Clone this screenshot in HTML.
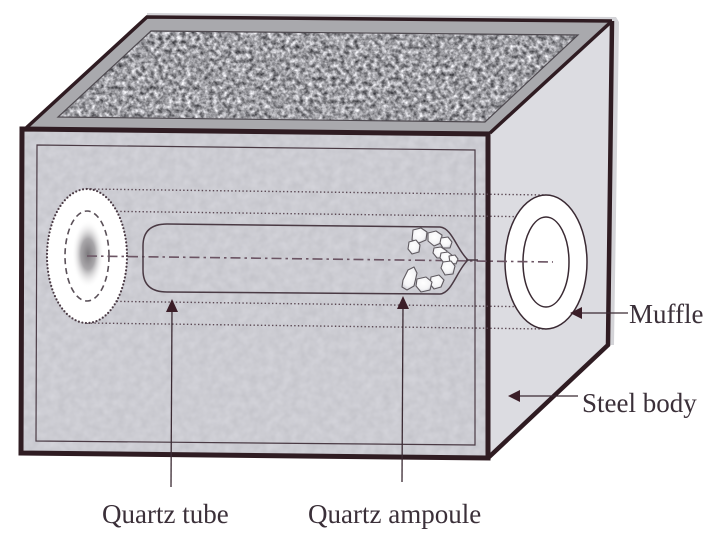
<!DOCTYPE html>
<html>
<head>
<meta charset="utf-8">
<style>
  html,body{margin:0;padding:0;background:#fff;}
  body{width:712px;height:542px;overflow:hidden;position:relative;}
  svg{display:block;position:absolute;left:0;top:0;}
  .lbl{position:absolute;font-family:"Liberation Serif","Noto Serif CJK SC",serif;font-size:27px;line-height:27px;color:#3b3039;white-space:nowrap;}
</style>
</head>
<body>
<svg width="712" height="542" viewBox="0 0 712 542" xmlns="http://www.w3.org/2000/svg">
  <defs>
    <filter id="granite" x="0" y="0" width="100%" height="100%" color-interpolation-filters="sRGB">
      <feTurbulence type="fractalNoise" baseFrequency="0.22" numOctaves="3" seed="7" result="n"/>
      <feColorMatrix in="n" type="matrix" values="1.1 0 0 0 0.07  1.1 0 0 0 0.07  1.1 0 0 0 0.09  0 0 0 0 1" result="g"/>
      <feComposite in="g" in2="SourceAlpha" operator="in"/>
    </filter>
    <filter id="paper" x="0" y="0" width="100%" height="100%" color-interpolation-filters="sRGB">
      <feTurbulence type="fractalNoise" baseFrequency="0.12" numOctaves="2" seed="2" result="n"/>
      <feColorMatrix in="n" type="matrix" values="0.08 0 0 0 0.76  0.08 0 0 0 0.76  0.08 0 0 0 0.785  0 0 0 0 1" result="g"/>
      <feComposite in="g" in2="SourceAlpha" operator="in"/>
    </filter>
    <radialGradient id="blob" cx="50%" cy="50%" r="50%">
      <stop offset="0" stop-color="#7d7a7e"/>
      <stop offset="0.45" stop-color="#a9a7aa"/>
      <stop offset="1" stop-color="#ffffff" stop-opacity="0"/>
    </radialGradient>
    <radialGradient id="peb" cx="45%" cy="40%" r="60%">
      <stop offset="0" stop-color="#ffffff"/>
      <stop offset="0.7" stop-color="#f4f4f6"/>
      <stop offset="1" stop-color="#cfcfd5"/>
    </radialGradient>
  </defs>

  <!-- light halo around back edges -->
  <polygon points="147,13 616,17 619,22 614,345 608,345 612,21 147,17" fill="#d4d4d8"/>

  <!-- right face -->
  <polygon points="488,134 612,21 608,345 488,458" fill="#dcdce1"/>
  <!-- top face -->
  <polygon points="147,17 612,21 490,133 25,129" fill="#a9a9ad"/>
  <polygon points="151,31 578,35 485,122 58,117" fill="#999" filter="url(#granite)"/>
  <polygon points="151,31 578,35 485,122 58,117" fill="none" stroke="#4f4a50" stroke-width="1.2"/>

  <!-- front face -->
  <polygon points="22,129 488,134 488,458 21,453" fill="#c9c9ce" filter="url(#paper)"/>
  <polygon points="37,145 475,150 475,445 36,441" fill="none" stroke="#4a3a44" stroke-width="1.2"/>

  <!-- box edges -->
  <polyline points="25,129 147,17 612,21" fill="none" stroke="#2f1c22" stroke-width="3.5" stroke-linejoin="miter"/>
  <line x1="490" y1="133" x2="612" y2="21" stroke="#2f1c22" stroke-width="3.5"/>
  <polyline points="612,21 608,345 488,458" fill="none" stroke="#2f1c22" stroke-width="4.5"/>
  <polygon points="22,129 488,134 488,458 21,453" fill="none" stroke="#2f1c22" stroke-width="5"/>

  <!-- dotted projection lines -->
  <g stroke="#5a4853" stroke-width="1.4" stroke-dasharray="1.4 2.3" fill="none">
    <line x1="87" y1="189" x2="546" y2="195"/>
    <line x1="87" y1="211" x2="546" y2="217"/>
    <line x1="87" y1="301" x2="546" y2="307"/>
    <line x1="87" y1="323" x2="546" y2="329"/>
  </g>

  <!-- left opening -->
  <ellipse cx="87" cy="256" rx="40" ry="67" fill="#ffffff"/>
  <ellipse cx="88" cy="254" rx="16" ry="34" fill="url(#blob)"/>
  <ellipse cx="87" cy="256" rx="40" ry="67" fill="none" stroke="#4a3a44" stroke-width="2.2" stroke-dasharray="0 3.6" stroke-linecap="round"/>
  <ellipse cx="87" cy="256" rx="22" ry="45" fill="none" stroke="#5a5058" stroke-width="1.6" stroke-dasharray="6 4"/>

  <!-- muffle ring -->
  <ellipse cx="546" cy="262" rx="41" ry="67" fill="#ffffff" stroke="#3a2a33" stroke-width="1.5"/>
  <ellipse cx="546" cy="262" rx="23" ry="45" fill="none" stroke="#3a2a33" stroke-width="1.5"/>

  <!-- center dash-dot line -->
  <line x1="87" y1="256" x2="553" y2="262" stroke="#6b5463" stroke-width="1.6" stroke-dasharray="10 4 2.5 4"/>

  <!-- quartz tube / ampoule -->
  <path d="M143,246 Q143,224 167,224 L440,227 C452,228 457,250 468,260 C457,270 452,293 440,294 L167,292 Q143,292 143,270 Z" fill="none" stroke="#4a3a44" stroke-width="1.5"/>
  <line x1="466" y1="260" x2="478" y2="260" stroke="#4a3a44" stroke-width="1.5"/>

  <!-- pebbles -->
  <g fill="url(#peb)" stroke="#5f5a60" stroke-width="1.1" stroke-linejoin="round">
    <polygon points="413,230 421,228 427,232 426,240 419,243 412,240"/>
    <polygon points="409,242 416,240 420,245 419,252 412,254 408,249"/>
    <polygon points="428,233 436,231 442,235 441,243 434,246 428,241"/>
    <polygon points="441,238 448,237 452,242 450,248 443,248 440,243"/>
    <polygon points="434,248 441,247 447,251 445,258 437,258 433,253"/>
    <polygon points="441,253 448,252 453,256 451,263 444,263 440,258"/>
    <polygon points="449,256 455,255 458,259 456,264 450,263"/>
    <polygon points="443,262 451,261 455,266 453,274 445,275 441,268"/>
    <polygon points="431,277 439,275 444,280 441,287 434,289 430,284"/>
    <polygon points="417,279 426,277 432,282 430,290 421,292 416,286"/>
    <polygon points="403,280 408,270 414,267 417,273 414,286 407,290 402,287"/>
  </g>

  <!-- leader lines & arrows -->
  <g stroke="#3b2a33" stroke-width="1.3">
    <line x1="171" y1="487" x2="172" y2="308"/>
    <line x1="402" y1="482" x2="403" y2="304"/>
    <line x1="628" y1="313" x2="578" y2="313"/>
    <line x1="578" y1="396" x2="516" y2="396"/>
  </g>
  <g fill="#3b1e28">
    <polygon points="172,299 166,312 178,312"/>
    <polygon points="403,296 397,309 409,309"/>
    <polygon points="570,313 582,307 582,319"/>
    <polygon points="508,396 520,390 520,402"/>
  </g>
</svg>

<div class="lbl" style="left:629px;top:301px;">Muffle</div>
<div class="lbl" style="left:582px;top:390px;">Steel body</div>
<div class="lbl" style="left:102px;top:501px;">Quartz tube</div>
<div class="lbl" style="left:308px;top:501px;">Quartz ampoule</div>
</body>
</html>
